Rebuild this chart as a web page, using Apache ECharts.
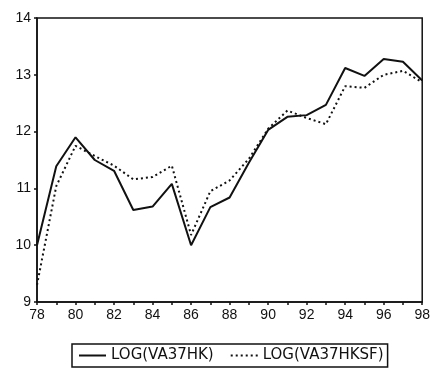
<!DOCTYPE html>
<html>
<head>
<meta charset="utf-8">
<script src="https://cdn.jsdelivr.net/npm/echarts@6/dist/echarts.min.js"></script>
<style>html,body{margin:0;padding:0;background:#fff}#c{width:433px;height:370px}</style>
</head>
<body>
<div id="c"></div>
<script>
const years = [78,79,80,81,82,83,84,85,86,87,88,89,90,91,92,93,94,95,96,97,98];
const va37hk = [10.0,11.39,11.9,11.5,11.31,10.62,10.68,11.08,10.0,10.67,10.84,11.45,12.03,12.26,12.29,12.47,13.12,12.98,13.28,13.23,12.9];
const va37hksf = [9.3,11.04,11.75,11.57,11.4,11.16,11.2,11.4,10.18,10.95,11.14,11.52,12.05,12.37,12.24,12.13,12.8,12.77,13.0,13.07,12.87];
const names = ['LOG(VA37HK)','LOG(VA37HKSF)'];

const font = 'Liberation Sans, Arial, sans-serif';
const chart = echarts.init(document.getElementById('c'), null, {renderer:'canvas'});
chart.setOption({
  animation:false,
  backgroundColor:'#fff',
  grid:{left:37,right:10,top:18,bottom:68,show:true,borderColor:'#111',borderWidth:1.5},
  xAxis:{type:'value',min:78,max:98,interval:2,
    axisLine:{onZero:false,lineStyle:{color:'#111',width:1.5}},
    axisTick:{length:3,lineStyle:{color:'#111',width:1.5}},
    minorTick:{show:true,splitNumber:2,length:3,lineStyle:{color:'#111',width:1.5}},
    splitLine:{show:false},
    axisLabel:{color:'#111',fontFamily:font,fontSize:14,margin:6}},
  yAxis:{type:'value',min:9,max:14,interval:1,
    axisLine:{show:true,lineStyle:{color:'#111',width:1.5}},
    axisTick:{show:true,length:3,lineStyle:{color:'#111',width:1.5}},
    splitLine:{show:false},
    axisLabel:{color:'#111',fontFamily:font,fontSize:14,margin:6}},
  legend:{bottom:3,left:72,itemWidth:27,itemHeight:10,itemGap:16,
    borderColor:'#111',borderWidth:1.5,padding:[4,4,4,6],
    itemStyle:{opacity:0},
    textStyle:{color:'#111',fontFamily:'DejaVu Sans, sans-serif',fontSize:15,padding:[0,0,0,0]},
    data:names},
  series:[
    {name:names[0],type:'line',symbol:'none',data:years.map((y,i)=>[y,va37hk[i]]),
     lineStyle:{color:'#111',width:2,type:'solid'},itemStyle:{color:'#111'}},
    {name:names[1],type:'line',symbol:'none',data:years.map((y,i)=>[y,va37hksf[i]]),
     lineStyle:{color:'#111',width:2,type:[2,3]},itemStyle:{color:'#111'}}
  ]
});
</script>
</body>
</html>
